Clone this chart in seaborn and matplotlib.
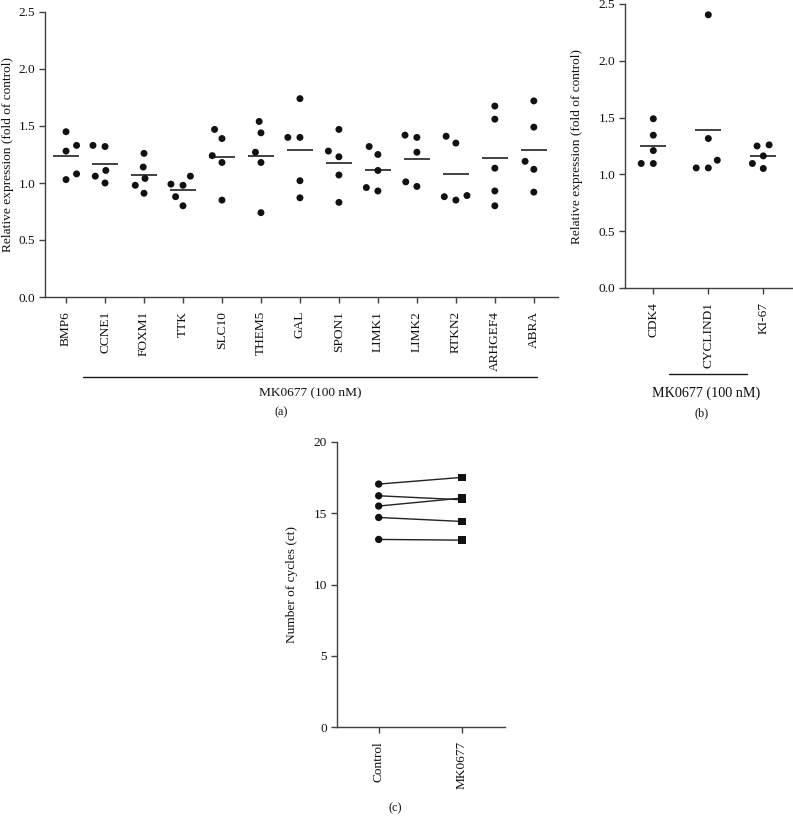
import numpy as np
import pandas as pd
import seaborn as sb
import matplotlib
matplotlib.use('Agg')
import matplotlib.pyplot as plt
from matplotlib.lines import Line2D

# panel (a): genes treated with MK0677, fold of control
genes = ['BMP6', 'CCNE1', 'FOXM1', 'TTK', 'SLC10', 'THEM5', 'GAL',
         'SPON1', 'LIMK1', 'LIMK2', 'RTKN2', 'ARHGEF4', 'ABRA']
gene_values = [
    [1.45, 1.33, 1.28, 1.08, 1.03],   # BMP6
    [1.32, 1.33, 1.11, 1.06, 1.00],   # CCNE1
    [1.26, 1.14, 1.04, 0.98, 0.91],   # FOXM1
    [0.99, 0.98, 1.06, 0.88, 0.80],   # TTK
    [1.39, 1.47, 1.24, 1.18, 0.85],   # SLC10
    [1.44, 1.54, 1.27, 1.18, 0.74],   # THEM5
    [1.74, 1.40, 1.40, 1.02, 0.87],   # GAL
    [1.47, 1.23, 1.28, 1.07, 0.83],   # SPON1
    [1.32, 1.25, 1.11, 0.96, 0.93],   # LIMK1
    [1.40, 1.42, 1.27, 1.01, 0.97],   # LIMK2
    [1.41, 1.35, 0.89, 0.85, 0.88],   # RTKN2
    [1.675, 1.56, 1.13, 0.93, 0.80],  # ARHGEF4
    [1.72, 1.49, 1.19, 1.12, 0.92],   # ABRA
]

# panel (b): cell cycle markers
cycle_genes = ['CDK4', 'CYCLIND1', 'KI-67']
cycle_values = [
    [1.49, 1.345, 1.21, 1.096, 1.096],   # CDK4
    [2.405, 1.316, 1.125, 1.057, 1.057],  # CYCLIND1
    [1.25, 1.26, 1.163, 1.052, 1.096],   # KI-67
]

# panel (c): ct values, paired
ct_groups = ['Control', 'MK0677']
ct_control = [17.05, 16.23, 15.51, 14.71, 13.17]
ct_mk0677 = [17.52, 15.95, 16.07, 14.43, 13.12]


def to_long(names, values):
    rows = []
    for name, vals in zip(names, values):
        for v in vals:
            rows.append({'gene': name, 'value': v})
    return pd.DataFrame(rows)


df_a = to_long(genes, gene_values)
df_b = to_long(cycle_genes, cycle_values)
df_c = pd.DataFrame({
    'group': [ct_groups[0]] * len(ct_control) + [ct_groups[1]] * len(ct_mk0677),
    'ct': ct_control + ct_mk0677,
    'pair': list(range(len(ct_control))) * 2,
})

sb.set_style('ticks')
plt.rcParams['font.family'] = ['Liberation Serif', 'DejaVu Serif']
plt.rcParams['axes.edgecolor'] = '#404040'
plt.rcParams['xtick.color'] = '#404040'
plt.rcParams['ytick.color'] = '#404040'
plt.rcParams['xtick.labelcolor'] = '#111111'
plt.rcParams['ytick.labelcolor'] = '#111111'
plt.rcParams['text.color'] = '#111111'
plt.rcParams['axes.labelcolor'] = '#111111'

FS = 9.6
W, H = 793, 826
fig = plt.figure(figsize=(W / 100, H / 100), dpi=100)


def px_axes(left, top, right, bottom):
    return fig.add_axes([left / W, 1 - bottom / H, (right - left) / W, (bottom - top) / H])


def style_axes(ax):
    sb.despine(ax=ax)
    for s in ['left', 'bottom']:
        ax.spines[s].set_linewidth(1.0)
    ax.tick_params(axis='both', length=4, width=1, labelsize=FS)
    ax.tick_params(axis='y', pad=3)
    ax.tick_params(axis='x', pad=6)


def dot_panel(ax, df, order):
    sb.swarmplot(data=df, x='gene', y='value', order=order, ax=ax,
                 color='#111111', size=5, linewidth=3.3, edgecolor='none')
    sb.pointplot(data=df, x='gene', y='value', order=order, ax=ax,
                 estimator='mean', errorbar=None, linestyle='none', marker='_',
                 markersize=19, markeredgewidth=1.3, color='#333333')
    ax.set_ylim(0, 2.5)
    ax.set_yticks(np.arange(0, 2.51, 0.5))
    ax.set_yticklabels([f'{t:.1f}' for t in np.arange(0, 2.51, 0.5)])
    ax.set_xticks(range(len(order)))
    ax.set_xticklabels(order, rotation=90, ha='center', va='top')
    ax.set_xlabel('')
    ax.set_ylabel('Relative expression (fold of control)', fontsize=FS)
    style_axes(ax)


# (a)
ax_a = px_axes(45, 12, 558, 297)
dot_panel(ax_a, df_a, genes)
ax_a.set_xlim(-0.54, 12.62)
ax_a.yaxis.set_label_coords(-0.060, 0.5)

# (b)
ax_b = px_axes(625, 4, 793, 288)
dot_panel(ax_b, df_b, cycle_genes)
ax_b.set_xlim(-0.515, 2.54)
ax_b.yaxis.set_label_coords(-0.25, 0.5)

# (c)
ax_c = px_axes(336.7, 442, 505, 727.3)
sb.lineplot(data=df_c, x='group', y='ct', units='pair', estimator=None,
            color='#222222', linewidth=1, ax=ax_c, sort=False)
sb.scatterplot(data=df_c, x='group', y='ct', style='group',
               markers={'Control': 'o', 'MK0677': 's'}, color='#111111',
               s=28, edgecolor='none', legend=False, ax=ax_c, zorder=3)
ax_c.set_xlim(-0.504, 1.516)
ax_c.set_ylim(0, 20)
ax_c.set_yticks([0, 5, 10, 15, 20])
ax_c.set_xticks([0, 1])
ax_c.set_xticklabels(ct_groups, rotation=90, ha='center', va='top')
ax_c.set_xlabel('')
ax_c.set_ylabel('Number of cycles (ct)', fontsize=FS)
ax_c.yaxis.set_label_coords(-0.23, 0.5)
style_axes(ax_c)

# treatment brackets and panel letters
for x0, x1, y in [(83, 537, 377), (669, 747, 374)]:
    fig.add_artist(Line2D([x0 / W, x1 / W], [1 - y / H, 1 - y / H],
                          color='#1a1a1a', linewidth=1))
fig.text(310 / W, 1 - 393 / H, 'MK0677 (100 nM)', ha='center', va='center', fontsize=FS)
fig.text(706 / W, 1 - 393 / H, 'MK0677 (100 nM)', ha='center', va='center', fontsize=FS + 0.6)
fig.text(281 / W, 1 - 412 / H, '(a)', ha='center', va='center', fontsize=FS - 0.8)
fig.text(702 / W, 1 - 413 / H, '(b)', ha='center', va='center', fontsize=FS - 0.8)
fig.text(395 / W, 1 - 808 / H, '(c)', ha='center', va='center', fontsize=FS - 0.8)

fig.savefig('out.png', dpi=100)
